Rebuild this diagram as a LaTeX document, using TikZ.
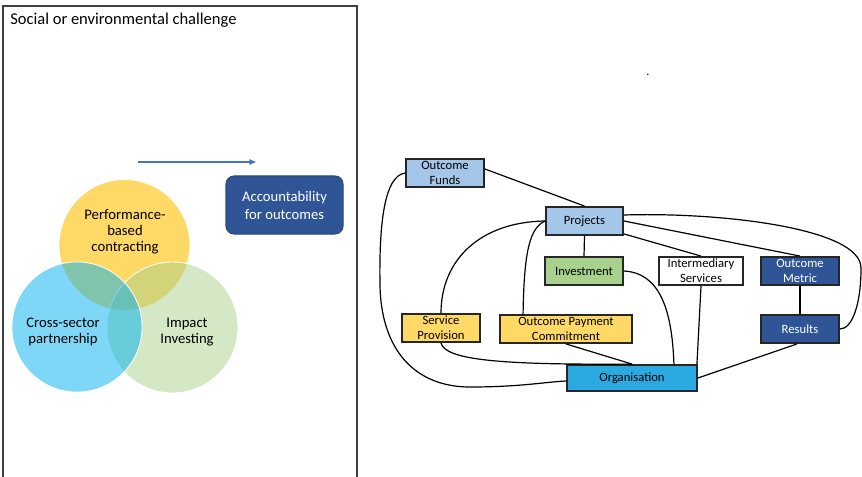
\documentclass[tikz,border=0pt]{standalone}
\usepackage{fontspec}
\setmainfont{Carlito}
\usetikzlibrary{calc,arrows.meta}
\definecolor{cLB}{HTML}{A4C6E8}
\definecolor{cGr}{HTML}{A9D18E}
\definecolor{cYe}{HTML}{FFD966}
\definecolor{cDB}{HTML}{2F5597}
\definecolor{cOrg}{HTML}{2AAAE1}
\definecolor{cCY}{HTML}{FFD966}
\definecolor{cCG}{HTML}{A9D18E}
\definecolor{cCB}{HTML}{00B0F0}
\definecolor{cArr}{HTML}{4472C4}
\definecolor{cBorder}{HTML}{262626}
\tikzset{
  box/.style={draw=cBorder, line width=1.4pt, rectangle, inner sep=0pt, align=center,
    minimum height=21pt, font=\fontsize{9.5}{11.25}\selectfont},
  edge/.style={draw=black, line width=0.9pt},
  circtext/.style={align=center, font=\fontsize{11}{12.2}\selectfont},
}
\begin{document}
\begin{tikzpicture}[x=0.75pt,y=-0.75pt]
\useasboundingbox (0,0) rectangle (862,477);
% left panel frame
\draw[draw=black!75, line width=0.8pt] (3,477) -- (3,6) -- (357,6) -- (357,477);
\node[anchor=base west, font=\fontsize{12.4}{14}\selectfont, inner sep=0pt] (title) at (10,25) {Social or environmental challenge};
% arrow
\coordinate (arrA) at (138,162);
\coordinate (arrB) at (256,162);
\draw[cArr, line width=0.8pt, -{Triangle[length=5pt,width=4pt]}] (arrA) -- (arrB);
% accountability box
\node[fill=cDB, draw=cDB!85!black, line width=0.8pt, rounded corners=6pt, minimum width=87.75pt, minimum height=43.5pt,
  text=white, align=center, font=\fontsize{11}{13.5}\selectfont] (acc) at (284.5,205) {Accountability\\for outcomes};
% Venn circles
\fill[cCY] (124.5,245) circle[radius=49.1pt];
\draw[white, line width=0.6pt] (124.5,245) circle[radius=49.1pt];
\fill[cCG, fill opacity=0.5] (172.5,327.5) circle[radius=49.1pt];
\draw[white, line width=0.6pt] (172.5,327.5) circle[radius=49.1pt];
\fill[cCB, fill opacity=0.5] (77,327) circle[radius=48.8pt];
\draw[white, line width=0.6pt] (77,327) circle[radius=48.8pt];
\node[circtext] (pbc) at (125,231.5) {Performance-\\based\\contracting};
\node[circtext] (csp) at (63,332) {Cross-sector\\partnership};
\node[circtext] (imp) at (187,332) {Impact\\Investing};
% right diagram boxes
\node[box, fill=cLB, minimum width=58.5pt] (of) at (445,173) {Outcome\\Funds};
\node[box, fill=cLB, minimum width=57.75pt] (pr) at (584.5,221) {Projects};
\node[box, fill=cGr, minimum width=58.5pt] (inv) at (584,271) {Investment};
\node[box, fill=white, minimum width=63pt] (is) at (701,271) {Intermediary\\Services};
\node[box, fill=cDB, text=white, minimum width=58.5pt] (om) at (800,271) {Outcome\\Metric};
\node[box, fill=cYe, minimum width=58.5pt] (sp) at (441,328) {Service\\Provision};
\node[box, fill=cYe, minimum width=99pt] (opc) at (566,329) {Outcome Payment\\Commitment};
\node[box, fill=cDB, text=white, minimum width=58.5pt] (res) at (800,329) {Results};
\node[box, fill=cOrg, minimum width=97.5pt, minimum height=19.5pt] (org) at (632,378) {Organisation};
\node[inner sep=0pt, font=\fontsize{9}{10}\selectfont] (dot) at (648,75) {.};
% connectors
\draw[edge] ($(of.east)+(0,-4)$) -- (pr.north);
\draw[edge] (of.west) .. controls (384,176) and (379,225) .. (380,285) .. controls (381,350) and (415,387) .. (470,387) .. controls (520,387) and (545,382) .. ($(org.west)+(0,3)$);
\draw[edge] (pr.west) .. controls (480,222) and (441,260) .. (sp.north);
\draw[edge] (pr.west) .. controls (530,228) and (524,250) .. ($(opc.north west)+(24,0)$);
\draw[edge] (pr.south) -- (inv.north);
\draw[edge] ($(pr.south east)+(0,-2)$) -- (is.north);
\draw[edge] (pr.east) -- (om.north);
\draw[edge] ($(pr.east)+(0,-6)$) .. controls (720,212) and (861,228) .. (861,268) .. controls (861,305) and (852,329) .. (res.east);
\draw[edge] (inv.east) .. controls (660,273) and (672,310) .. ($(org.north east)+(-24,0)$);
\draw[edge] (is.south) -- ($(org.north east)+(-1,0)$);
\draw[edge] (om.south) -- (res.north);
\draw[edge] ($(res.south)+(-3,0)$) -- (org.east);
\draw[edge] (sp.south) .. controls (445,360) and (500,365) .. (org.north);
\draw[edge] (opc.south) -- (org.north);
\end{tikzpicture}
\end{document}
